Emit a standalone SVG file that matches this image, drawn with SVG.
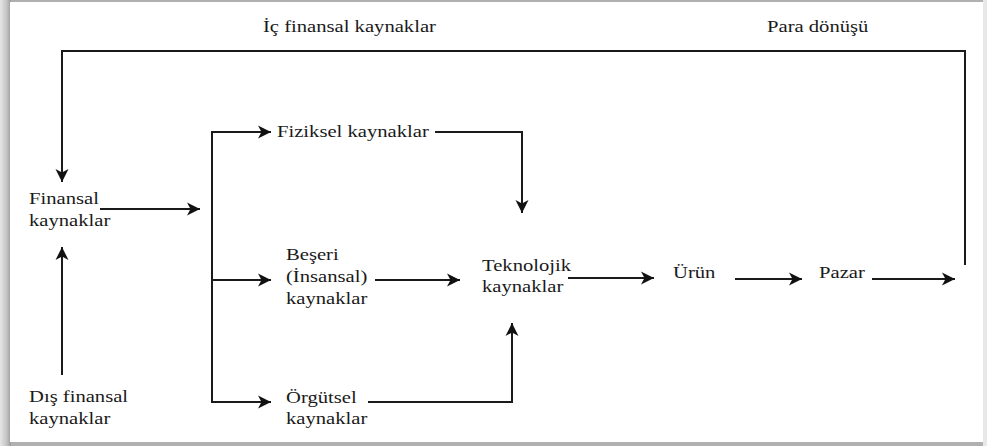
<svg xmlns="http://www.w3.org/2000/svg" width="987" height="446" viewBox="0 0 987 446">
  <defs>
    <style>
      .t { font-family: "Liberation Serif", "Times New Roman", serif; font-size: 17.2px; fill: #1a1a1a; }
      .c { fill: none; stroke: #1a1a1a; stroke-width: 2; }
    </style>
    <marker id="ah" viewBox="-14 -7 15 14" refX="0" refY="0" markerWidth="15" markerHeight="14" markerUnits="userSpaceOnUse" orient="auto">
      <path d="M0,0 L-13,-6.5 L-9.5,0 L-13,6.5 Z" fill="#111"/>
    </marker>
    <linearGradient id="lsh" x1="0" y1="0" x2="1" y2="0">
      <stop offset="0" stop-color="#e6e6e6"/>
      <stop offset="0.6" stop-color="#c4c4c4"/>
      <stop offset="1" stop-color="#9a9a9a"/>
    </linearGradient>
  </defs>

  <!-- card background -->
  <rect x="0" y="0" width="987" height="446" fill="#b0b0b0"/>
  <rect x="0" y="0" width="11" height="446" fill="url(#lsh)"/>
  <rect x="983" y="0" width="4" height="446" fill="#e8e8e8"/>
  <rect x="10" y="2" width="973" height="440" fill="#ffffff"/>

  <g id="connectors">
    <polyline class="c" points="965,265 965,51 62,51 62,182" marker-end="url(#ah)"/>
    <line class="c" x1="62" y1="375" x2="62" y2="247" marker-end="url(#ah)"/>
    <line class="c" x1="100" y1="209" x2="200" y2="209" marker-end="url(#ah)"/>
    <line class="c" x1="212" y1="131" x2="212" y2="403"/>
    <line class="c" x1="211" y1="132" x2="271" y2="132" marker-end="url(#ah)"/>
    <line class="c" x1="211" y1="280" x2="271" y2="280" marker-end="url(#ah)"/>
    <line class="c" x1="211" y1="402" x2="271" y2="402" marker-end="url(#ah)"/>
    <polyline class="c" points="435,132 522,132 522,213" marker-end="url(#ah)"/>
    <line class="c" x1="375" y1="280" x2="460" y2="280" marker-end="url(#ah)"/>
    <polyline class="c" points="368,402 512,402 512,323" marker-end="url(#ah)"/>
    <line class="c" x1="568" y1="278" x2="654" y2="278" marker-end="url(#ah)"/>
    <line class="c" x1="735" y1="279" x2="802" y2="279" marker-end="url(#ah)"/>
    <line class="c" x1="872" y1="279" x2="955" y2="279" marker-end="url(#ah)"/>
  </g>

  <g id="ic-finansal">
    <text class="t" transform="matrix(1.2 0 0 1 263 32)">İç finansal kaynaklar</text>
  </g>
  <g id="para-donusu">
    <text class="t" transform="matrix(1.2 0 0 1 767 32)">Para dönüşü</text>
  </g>
  <g id="finansal">
    <text class="t" transform="matrix(1.2 0 0 1 29 204)">Finansal</text>
    <text class="t" transform="matrix(1.2 0 0 1 29 226)">kaynaklar</text>
  </g>
  <g id="dis-finansal">
    <text class="t" transform="matrix(1.2 0 0 1 29 402)">Dış finansal</text>
    <text class="t" transform="matrix(1.2 0 0 1 29 424)">kaynaklar</text>
  </g>
  <g id="fiziksel">
    <text class="t" transform="matrix(1.2 0 0 1 277 137)">Fiziksel kaynaklar</text>
  </g>
  <g id="beseri">
    <text class="t" transform="matrix(1.2 0 0 1 286 260)">Beşeri</text>
    <text class="t" transform="matrix(1.2 0 0 1 286 282)">(İnsansal)</text>
    <text class="t" transform="matrix(1.2 0 0 1 286 304)">kaynaklar</text>
  </g>
  <g id="orgutsel">
    <text class="t" transform="matrix(1.2 0 0 1 286 403)">Örgütsel</text>
    <text class="t" transform="matrix(1.2 0 0 1 286 424)">kaynaklar</text>
  </g>
  <g id="teknolojik">
    <text class="t" transform="matrix(1.2 0 0 1 482 271)">Teknolojik</text>
    <text class="t" transform="matrix(1.2 0 0 1 482 292)">kaynaklar</text>
  </g>
  <g id="urun">
    <text class="t" transform="matrix(1.2 0 0 1 673 278)">Ürün</text>
  </g>
  <g id="pazar">
    <text class="t" transform="matrix(1.2 0 0 1 819 278)">Pazar</text>
  </g>
</svg>
